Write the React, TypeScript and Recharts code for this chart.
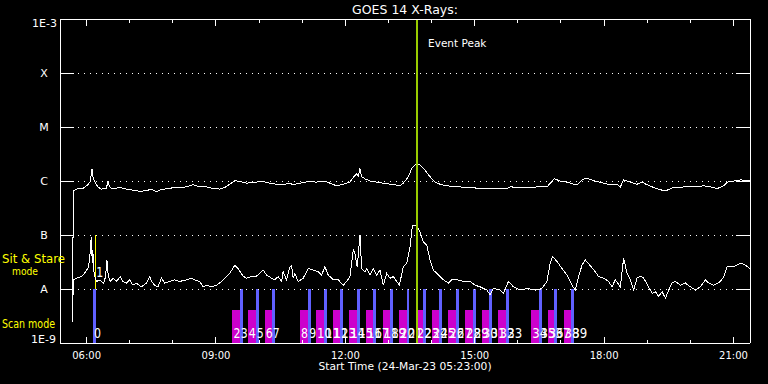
import React from "react";
import { ComposedChart, Line, XAxis, YAxis, ReferenceLine, ReferenceArea } from "recharts";

const FONT = "DejaVu Sans";

// time axis in decimal hours, start 05:23, 16 h window
const START = 5 + 23 / 60;
const END = START + 16;

const hourTicks = [6, 7, 8, 9, 10, 11, 12, 13, 14, 15, 16, 17, 18, 19, 20, 21];
const labelledHours = [6, 9, 12, 15, 18, 21];

// flux as log10(W/m^2)
const decades = [-9, -8, -7, -6, -5, -4, -3];
const decadeNames: Record<number, string> = {
  [-3]: "1E-3",
  [-4]: "X",
  [-5]: "M",
  [-6]: "C",
  [-7]: "B",
  [-8]: "A",
  [-9]: "1E-9",
};
const gridDecades = [-8, -7, -6, -5, -4];

// [hour, log10 flux]
const longChannel: [number, number][] = [
  [5.663, -8.57], [5.698, -6.18], [5.761, -6.15], [5.914, -6.14], [6.03, -6.07], [6.086, -6.01], [6.123, -5.77], [6.146, -5.92], [6.186, -6.01], [6.262, -6.11],
  [6.341, -6.15], [6.457, -6.14], [6.495, -6.01], [6.534, -6.11], [6.611, -6.15], [6.766, -6.12], [6.922, -6.15], [7.075, -6.17], [7.231, -6.19], [7.386, -6.18],
  [7.502, -6.15], [7.618, -6.2], [7.695, -6.17], [7.851, -6.14], [8.083, -6.12], [8.315, -6.11], [8.468, -6.07], [8.624, -6.11], [8.779, -6.11], [8.933, -6.14],
  [9.088, -6.15], [9.204, -6.12], [9.32, -6.06], [9.437, -5.99], [9.553, -6.01], [9.708, -6.04], [9.94, -6.02], [10.094, -6.01], [10.249, -6.04], [10.405, -6.06],
  [10.558, -6.07], [10.714, -6.04], [10.79, -6.07], [10.946, -6.04], [11.139, -6.01], [11.334, -6.02], [11.526, -6.0], [11.642, -6.04], [11.798, -6.09], [11.951, -6.06],
  [12.107, -6.02], [12.2, -5.92], [12.262, -5.87], [12.3, -5.91], [12.339, -5.77], [12.378, -5.92], [12.455, -5.96], [12.571, -6.0], [12.727, -6.02], [12.88, -6.04],
  [13.036, -6.06], [13.152, -6.07], [13.268, -6.09], [13.345, -6.04], [13.461, -5.92], [13.54, -5.77], [13.616, -5.7], [13.693, -5.69], [13.732, -5.7], [13.848, -5.8],
  [13.964, -5.92], [14.081, -6.02], [14.197, -6.06], [14.352, -6.09], [14.661, -6.11], [15.202, -6.14], [15.745, -6.14], [15.822, -6.11], [16.286, -6.12], [16.442, -6.11],
  [16.674, -6.11], [16.79, -6.01], [16.844, -5.96], [16.983, -6.0], [17.139, -6.02], [17.292, -6.06], [17.371, -6.07], [17.487, -5.98], [17.564, -5.95], [17.68, -5.97],
  [17.836, -6.01], [17.989, -6.04], [18.144, -6.07], [18.3, -6.06], [18.376, -6.11], [18.453, -5.98], [18.609, -6.02], [18.764, -6.06], [18.88, -6.02], [18.996, -6.07],
  [19.15, -6.12], [19.345, -6.17], [19.461, -6.17], [19.614, -6.12], [19.846, -6.11], [20.078, -6.11], [20.311, -6.09], [20.466, -6.11], [20.622, -6.14], [20.775, -6.09],
  [20.854, -6.02], [21.007, -6.0], [21.163, -5.98], [21.318, -5.99], [21.38, -5.99],
];

const shortChannel: [number, number][] = [
  [5.663, -8.61], [5.698, -7.83], [5.761, -7.8], [5.877, -7.77], [5.954, -7.71], [5.993, -7.65], [6.03, -7.62], [6.07, -7.46], [6.109, -7.03], [6.132, -7.52],
  [6.146, -7.28], [6.163, -7.65], [6.186, -7.74], [6.209, -7.83], [6.239, -7.86], [6.286, -7.83], [6.341, -7.86], [6.395, -7.89], [6.441, -7.77], [6.471, -7.46],
  [6.504, -7.77], [6.55, -7.86], [6.611, -7.8], [6.69, -7.86], [6.783, -7.77], [6.843, -7.86], [6.922, -7.89], [6.998, -7.83], [7.075, -7.93], [7.154, -7.89],
  [7.27, -7.96], [7.386, -7.89], [7.463, -7.77], [7.502, -7.86], [7.579, -7.93], [7.656, -7.96], [7.735, -7.8], [7.811, -7.89], [7.927, -7.86], [8.043, -7.83],
  [8.159, -7.86], [8.315, -7.83], [8.431, -7.8], [8.508, -7.83], [8.624, -7.86], [8.7, -7.96], [8.779, -7.93], [8.895, -7.96], [9.012, -7.93], [9.128, -7.86],
  [9.204, -7.8], [9.32, -7.71], [9.437, -7.56], [9.513, -7.62], [9.553, -7.67], [9.63, -7.76], [9.708, -7.8], [9.824, -7.77], [9.94, -7.76], [10.057, -7.68],
  [10.094, -7.65], [10.173, -7.74], [10.289, -7.8], [10.366, -7.83], [10.442, -7.77], [10.521, -7.86], [10.558, -7.68], [10.637, -7.83], [10.714, -7.59], [10.753, -7.56],
  [10.79, -7.8], [10.83, -7.71], [10.906, -7.86], [11.022, -7.8], [11.139, -7.62], [11.255, -7.65], [11.371, -7.68], [11.45, -7.74], [11.526, -7.59], [11.603, -7.74],
  [11.719, -7.83], [11.835, -7.83], [11.951, -7.93], [12.03, -7.86], [12.107, -7.77], [12.184, -7.28], [12.223, -7.34], [12.276, -7.59], [12.339, -7.0], [12.378, -7.62],
  [12.455, -7.68], [12.495, -7.62], [12.571, -7.74], [12.648, -7.62], [12.727, -7.74], [12.803, -7.65], [12.88, -7.93], [12.959, -7.71], [13.036, -7.8], [13.112, -7.77],
  [13.191, -7.86], [13.252, -7.93], [13.345, -7.59], [13.423, -7.52], [13.5, -7.22], [13.554, -6.83], [13.656, -6.83], [13.732, -6.94], [13.809, -7.13], [13.888, -7.19],
  [13.964, -7.46], [14.041, -7.65], [14.157, -7.74], [14.273, -7.83], [14.389, -7.89], [14.468, -7.83], [14.585, -7.83], [14.738, -7.86], [14.893, -7.86], [15.009, -7.93],
  [15.125, -7.96], [15.281, -8.02], [15.358, -8.11], [15.434, -7.99], [15.59, -8.02], [15.667, -8.08], [15.783, -7.86], [15.899, -7.96], [16.054, -8.02], [16.21, -7.99],
  [16.403, -8.02], [16.558, -7.99], [16.674, -7.86], [16.751, -7.52], [16.805, -7.4], [16.907, -7.49], [17.023, -7.62], [17.139, -7.74], [17.255, -7.93], [17.332, -8.02],
  [17.409, -7.77], [17.487, -7.56], [17.564, -7.46], [17.68, -7.57], [17.796, -7.68], [17.873, -7.77], [17.989, -7.8], [18.105, -7.86], [18.184, -7.96], [18.26, -7.83],
  [18.376, -7.96], [18.453, -7.43], [18.532, -7.71], [18.609, -7.83], [18.686, -8.02], [18.764, -7.8], [18.841, -7.76], [18.918, -7.8], [19.011, -7.93], [19.113, -8.08],
  [19.19, -8.05], [19.266, -8.14], [19.345, -8.05], [19.422, -8.17], [19.498, -8.02], [19.577, -7.89], [19.654, -7.86], [19.77, -7.93], [19.886, -7.89], [20.002, -7.96],
  [20.118, -8.02], [20.234, -7.96], [20.35, -7.83], [20.427, -7.89], [20.543, -7.93], [20.698, -7.86], [20.775, -7.77], [20.854, -7.59], [21.007, -7.59], [21.163, -7.52],
  [21.279, -7.56], [21.38, -7.62],
];

// pointing marks (blue) and scan windows (magenta, each ending at the next pointing mark)
const pointingT = [6.146, 9.553, 9.924, 10.296, 11.139, 11.503, 11.875, 12.276, 12.648, 13.036, 13.423, 13.809, 14.18, 14.568, 14.956, 15.341, 15.729, 16.502, 16.844, 17.238];
const scanT = [9.383, 9.738, 10.133, 10.946, 11.317, 11.705, 12.091, 12.478, 12.866, 13.245, 13.632, 14.004, 14.389, 14.777, 15.165, 15.55, 16.31, 16.688, 17.06];
const pointingLen = 0.063;
const scanTop = -8.39;
const sitStareT = 6.202;
const eventPeakT = 13.663;

const longData = longChannel.map(([t, v]) => ({ t, v }));
const shortData = shortChannel.map(([t, v]) => ({ t, v }));

const seqLabels = [
  { t: pointingT[0], n: 0 },
  ...scanT.flatMap((s, i) => [
    { t: s, n: 2 + 2 * i },
    { t: pointingT[i + 1], n: 3 + 2 * i },
  ]),
];

const pad = (h: number) => `${h < 10 ? "0" : ""}${h}:00`;

const BottomTick = (props: any) => {
  const { x, y, payload } = props;
  const major = labelledHours.includes(payload.value);
  return (
    <g>
      <line x1={x} x2={x} y1={y} y2={y - (major ? 6 : 3)} stroke="#fff" />
      {major && (
        <text x={x} y={y + 16} textAnchor="middle" fill="#fff" fontSize={10} fontFamily={FONT}>
          {pad(payload.value)}
        </text>
      )}
    </g>
  );
};

const TopTick = (props: any) => {
  const { x, y, payload } = props;
  const major = labelledHours.includes(payload.value);
  return <line x1={x} x2={x} y1={y} y2={y + (major ? 7 : 4)} stroke="#fff" />;
};

const LeftTick = (props: any) => {
  const { x, y, payload } = props;
  const v = payload.value;
  const name = decadeNames[v];
  let label;
  if (v === -3) {
    label = <text x={x - 3} y={y + 8} textAnchor="end" fill="#fff" fontSize={11} fontFamily={FONT}>{name}</text>;
  } else if (v === -9) {
    label = <text x={x - 4} y={y} textAnchor="end" fill="#fff" fontSize={11} fontFamily={FONT}>{name}</text>;
  } else {
    label = <text x={x - 16} y={y + 4} textAnchor="middle" fill="#fff" fontSize={11} fontFamily={FONT}>{name}</text>;
  }
  return (
    <g>
      <line x1={x} x2={x + 14} y1={y} y2={y} stroke="#fff" />
      {label}
    </g>
  );
};

const RightTick = (props: any) => {
  const { x, y } = props;
  return <line x1={x} x2={x - 14} y1={y} y2={y} stroke="#fff" />;
};

const PeakLabel = (props: any) => {
  const vb = props.viewBox || {};
  return (
    <text x={vb.x + 11} y={vb.y + 28} fill="#fff" fontSize={10.5} fontFamily={FONT}>
      Event Peak
    </text>
  );
};

const SeqLabel = (props: any) => {
  const vb = props.viewBox || {};
  const s = String(props.text);
  return (
    <text
      x={vb.x + 1}
      y={vb.y + vb.height - props.lift}
      fill="#fff"
      fontSize={14}
      fontFamily={FONT}
      textLength={8 * s.length - 1}
      lengthAdjust="spacingAndGlyphs"
    >
      {s}
    </text>
  );
};

export default function App() {
  return (
    <div style={{ position: "absolute", left: 0, top: 0, width: 768, height: 384, background: "#000", overflow: "hidden" }}>
      <style>{"svg { shape-rendering: crispEdges; }"}</style>
      <ComposedChart width={768} height={384} margin={{ top: 0, right: 0, bottom: 0, left: 0 }}>
        <XAxis
          dataKey="t"
          type="number"
          domain={[START, END]}
          ticks={hourTicks}
          interval={0}
          height={41}
          tickSize={0}
          tickMargin={0}
          tickLine={false}
          axisLine={{ stroke: "#fff" }}
          tick={<BottomTick />}
          allowDataOverflow
        />
        <XAxis
          xAxisId="top"
          orientation="top"
          dataKey="t"
          type="number"
          domain={[START, END]}
          ticks={hourTicks}
          interval={0}
          height={19}
          tickSize={0}
          tickMargin={0}
          tickLine={false}
          axisLine={{ stroke: "#fff" }}
          tick={<TopTick />}
          allowDataOverflow
        />
        <YAxis
          type="number"
          domain={[-9, -3]}
          ticks={decades}
          interval={0}
          width={60}
          tickSize={0}
          tickMargin={0}
          tickLine={false}
          axisLine={{ stroke: "#fff" }}
          tick={<LeftTick />}
          allowDataOverflow
        />
        <YAxis
          yAxisId="right"
          orientation="right"
          type="number"
          domain={[-9, -3]}
          ticks={decades}
          interval={0}
          width={18}
          tickSize={0}
          tickMargin={0}
          tickLine={false}
          axisLine={{ stroke: "#fff" }}
          tick={<RightTick />}
          allowDataOverflow
        />

        {gridDecades.map((d) => (
          <ReferenceLine key={"g" + d} y={d} stroke="#fff" strokeDasharray="1 5" />
        ))}

        {scanT.map((s, i) => (
          <ReferenceArea key={"s" + i} x1={s} x2={pointingT[i + 1]} y1={-9} y2={scanTop} fill="#cc00cc" fillOpacity={1} stroke="none" />
        ))}
        {pointingT.map((p, i) => (
          <ReferenceArea key={"p" + i} x1={p} x2={p + pointingLen} y1={-9} y2={-8} fill="#6060ff" fillOpacity={1} stroke="none" />
        ))}

        <ReferenceLine
          segment={[{ x: sitStareT, y: -7 }, { x: sitStareT, y: -8 }]}
          stroke="#ffff00"
          label={<SeqLabel text="1" lift={12} />}
        />

        {seqLabels.map((l, i) => (
          <ReferenceLine key={"l" + i} x={l.t} stroke="none" label={<SeqLabel text={l.n} lift={5} />} />
        ))}

        <Line data={longData} dataKey="v" type="linear" stroke="#fff" strokeWidth={1} dot={false} isAnimationActive={false} />
        <Line data={shortData} dataKey="v" type="linear" stroke="#fff" strokeWidth={1} dot={false} isAnimationActive={false} />

        <ReferenceLine x={eventPeakT} stroke="#99cc00" strokeWidth={2} label={<PeakLabel />} />
      </ComposedChart>

      <svg width={768} height={384} style={{ position: "absolute", left: 0, top: 0, pointerEvents: "none" }} fontFamily={FONT}>
        <text x={405} y={14} textAnchor="middle" fill="#fff" fontSize={12.5}>GOES 14 X-Rays:</text>
        <text x={2} y={263} fill="#ffff00" fontSize={12} textLength={63} lengthAdjust="spacingAndGlyphs">{"Sit & Stare"}</text>
        <text x={12} y={275} fill="#ffff00" fontSize={11} textLength={26} lengthAdjust="spacingAndGlyphs">mode</text>
        <text x={2} y={328} fill="#ffff00" fontSize={12} textLength={53} lengthAdjust="spacingAndGlyphs">Scan mode</text>
        <text x={405} y={370} textAnchor="middle" fill="#fff" fontSize={10.7}>Start Time (24-Mar-23 05:23:00)</text>
      </svg>
    </div>
  );
}
